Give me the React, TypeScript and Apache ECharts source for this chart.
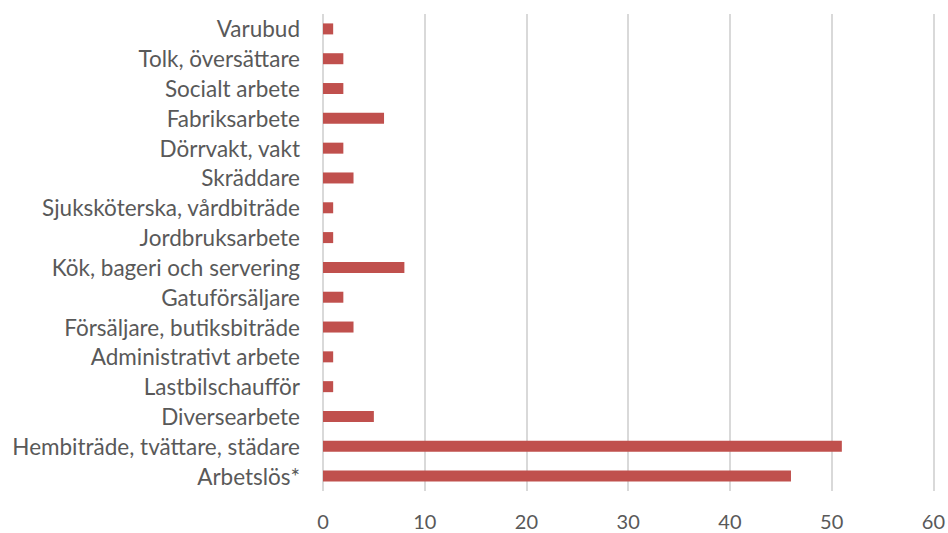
import React, { useEffect, useRef } from "react";
import * as echarts from "echarts";

const categories = [
  "Arbetslös*",
  "Hembiträde, tvättare, städare",
  "Diversearbete",
  "Lastbilschaufför",
  "Administrativt arbete",
  "Försäljare, butiksbiträde",
  "Gatuförsäljare",
  "Kök, bageri och servering",
  "Jordbruksarbete",
  "Sjuksköterska, vårdbiträde",
  "Skräddare",
  "Dörrvakt, vakt",
  "Fabriksarbete",
  "Socialt arbete",
  "Tolk, översättare",
  "Varubud",
];
const values = [46, 51, 5, 1, 1, 3, 2, 8, 1, 1, 3, 2, 6, 2, 2, 1];

export default function App() {
  const ref = useRef<HTMLDivElement>(null);
  useEffect(() => {
    if (!ref.current) return;
    const chart = echarts.init(ref.current, null, { renderer: "svg" });
    chart.setOption({
      animation: false,
      grid: { left: 323, right: 14, top: 14, bottom: 42, containLabel: false },
      xAxis: {
        type: "value",
        min: 0,
        max: 60,
        interval: 10,
        axisLine: { show: false },
        axisTick: { show: false },
        splitLine: { show: true, lineStyle: { color: "#D9D9D9", width: 2 } },
        axisLabel: {
          color: "#595959",
          fontSize: 20,
          fontFamily: "Lato",
          margin: 20,
        },
      },
      yAxis: {
        type: "category",
        data: categories,
        axisLine: { show: false },
        axisTick: { show: false },
        splitLine: { show: false },
        axisLabel: {
          color: "#595959",
          fontSize: 22.5,
          fontFamily: "Lato",
          margin: 23,
          interval: 0,
        },
      },
      series: [
        {
          type: "bar",
          data: values,
          barWidth: 11,
          itemStyle: { color: "#C0504D" },
        },
      ],
    });
    return () => chart.dispose();
  }, []);
  return (
    <div
      ref={ref}
      style={{ position: "absolute", left: 0, top: 0, width: 948, height: 533 }}
    />
  );
}
